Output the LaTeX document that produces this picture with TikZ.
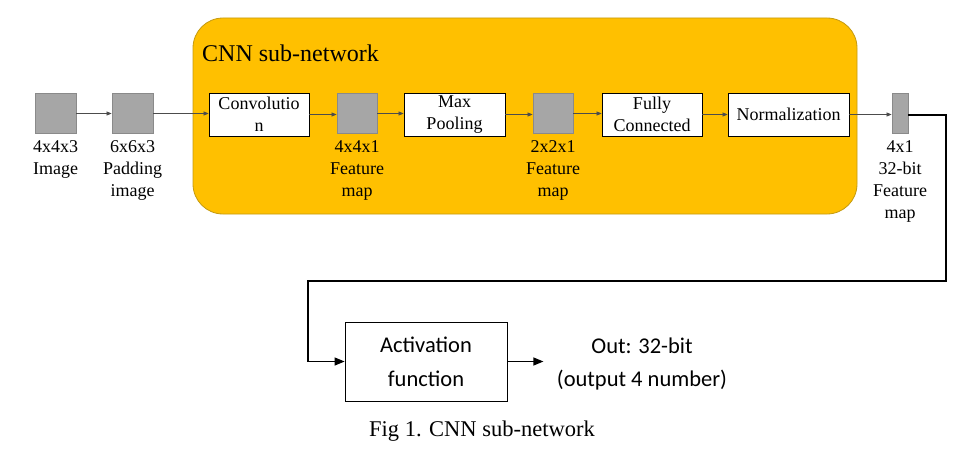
\documentclass[tikz,border=0pt]{standalone}
\usepackage{fontspec}
\setmainfont{Liberation Serif}
\newfontfamily\timesfont{Liberation Serif}
\newfontfamily\calibfont{Carlito}
\usetikzlibrary{arrows.meta,calc}
\definecolor{cnnYellow}{HTML}{FFC000}
\definecolor{cnnEdge}{HTML}{C49A10}
\definecolor{mapGray}{HTML}{A6A6A6}
\definecolor{mapEdge}{HTML}{8A8A8A}

\begin{document}
\begin{tikzpicture}
[x=1pt,y=-1pt,
  mapDecorate/.style={draw=mapEdge,fill=mapGray,inner sep=0pt,line width=0.8pt},
  stageDecorate/.style={draw=black,fill=white,line width=0.8pt,inner sep=0pt,
    align=center,font=\timesfont\fontsize{18}{22}\selectfont},
  labelDecorate/.style={anchor=north,inner sep=0pt,align=center,
    font=\timesfont\fontsize{18}{22}\selectfont},
  lineDecorate/.style={-{Triangle[length=5pt,width=4pt]},draw=black!70,line width=0.6pt},
  boldDecorate/.style={-{Triangle[length=10pt,width=8pt]},draw=black,line width=1.2pt}]
\useasboundingbox (0,0) rectangle (967,452);
%% sub-network frame
\draw[fill=cnnYellow,draw=cnnEdge,line width=0.8pt,rounded corners=30pt]
  (193,18) rectangle (857,214);
\node (title) at (202,62) [anchor=base west,inner sep=0pt,
  font=\timesfont\fontsize{24}{28}\selectfont] {CNN sub-network};
%% feature maps
\foreach \nodename/\x/\w/\txt in {
  img/55.5/41/{4x4x3\\Image},
  pad/132.5/41/{6x6x3\\Padding\\image},
  fmA/357/40/{4x4x1\\Feature\\map},
  fmB/553/40/{2x2x1\\Feature\\map},
  fmC/900/16/{4x1\\32-bit\\Feature\\map}}
{
  \node (\nodename) at (\x,113.5) [mapDecorate,minimum width=\w pt,minimum height=40pt] {};
  \node (\nodename-lbl) at (\x,140) [labelDecorate] {\txt};
}
%% processing stages
\foreach \nodename/\x/\w/\txt in {
  conv/259/100/{Convolutio\\n},
  pool/454.5/101/{Max\\Pooling},
  fc/652/100/{Fully\\Connected},
  norm/788.5/121/{Normalization}}
{
  \node (\nodename) at (\x,114.5) [stageDecorate,minimum width=\w pt,minimum height=43pt] {\txt};
}
%% edges or lines
\foreach \startnode/\endnode in {
  img/pad, pad/conv, conv/fmA, fmA/pool, pool/fmB, fmB/fc, fc/norm, norm/fmC}
{
  \draw[lineDecorate] (\startnode.east) -- (\startnode.east -| \endnode.west);
}
%% activation stage
\node (act) at (426,361.5) [draw=black,line width=0.8pt,minimum width=162pt,
  minimum height=79pt,align=center,font=\calibfont\fontsize{22.5}{34}\selectfont]
  {Activation\\function};
\node (result) at (642,364) [align=center,inner sep=0pt,
  font=\calibfont\fontsize{22.5}{33}\selectfont] {Out: 32-bit\\(output 4 number)};
\coordinate (turnA) at (946,115);
\coordinate (turnB) at (946,281);
\coordinate (turnC) at (308,281);
\draw[boldDecorate] (fmC.east |- turnA) -- (turnA) -- (turnB) -- (turnC)
  -- (turnC |- act.west) -- (act.west);
\draw[boldDecorate] (act.east) -- ++(36,0) coordinate (outEnd);
%% caption
\node (caption) at (482,431) [inner sep=0pt,font=\timesfont\fontsize{22.5}{26}\selectfont]
  {Fig 1. CNN sub-network};
\end{tikzpicture}
\end{document}
